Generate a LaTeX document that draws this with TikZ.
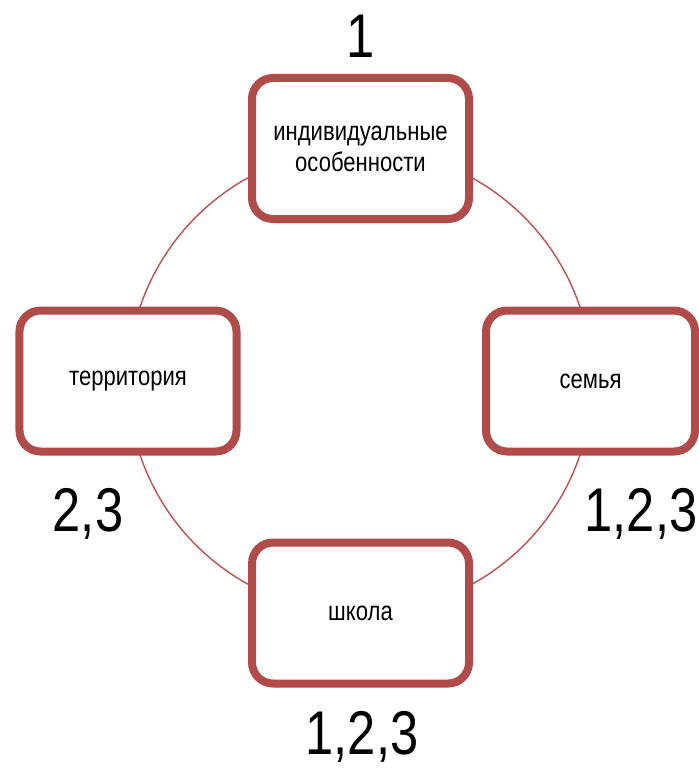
\documentclass[tikz,border=0pt]{standalone}
\usepackage{fontspec}
\setmainfont{Liberation Sans}
\newfontfamily\narrowfont[FakeStretch=0.82]{Liberation Sans}
\usetikzlibrary{shadows}
\definecolor{boxred}{HTML}{B04B49}
\definecolor{ringred}{HTML}{C0504D}
\tikzset{
  topic/.style={rectangle, draw=boxred, line width=8bp, rounded corners=21bp,
    fill=white, minimum width=217bp, minimum height=141bp, align=center,
    font=\narrowfont\fontsize{27}{31}\selectfont, text=black,
    drop shadow={shadow xshift=2.5bp, shadow yshift=-3.5bp, opacity=0.3, fill=black!60}},
  ring/.style={draw=ringred, line width=1.4bp},
  num/.style={font=\narrowfont\fontsize{62}{70}\selectfont, text=black, inner sep=0pt}
}
\begin{document}
\begin{tikzpicture}[x=1bp,y=-1bp]
\useasboundingbox (0,0) rectangle (699,773);
\coordinate (c) at (360,381);
\draw[ring] (c) circle[radius=232bp];
\node[topic] (ind) at (360.5,148.5) {индивидуальные\\особенности};
\node[topic] (ter) at (128,381) {территория};
\node[topic, minimum width=209bp] (fam) at (590.5,381) {семья};
\node[topic] (sch) at (360.5,613) {школа};
\node[num] (n1) at (361,36) {1};
\node[num] (n2) at (88,514) {2,3};
\node[num] (n3) at (641,514) {1,2,3};
\node[num] (n4) at (362,737) {1,2,3};
\end{tikzpicture}
\end{document}
